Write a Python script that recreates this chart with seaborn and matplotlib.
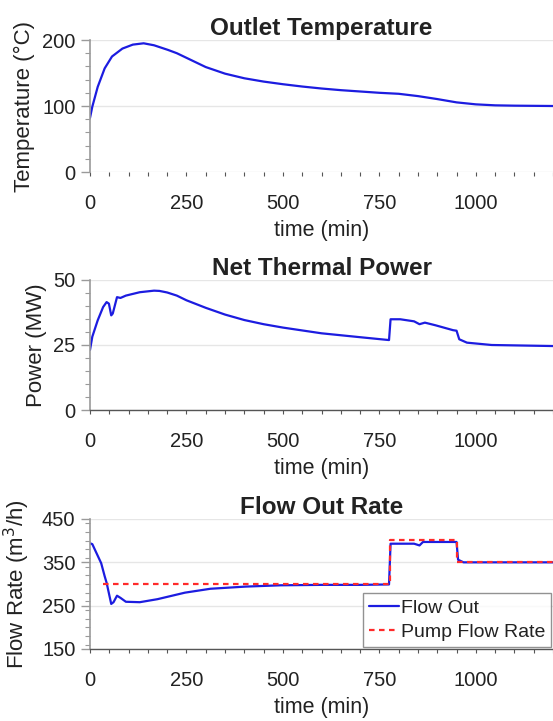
import numpy as np
import pandas as pd
import matplotlib
matplotlib.use("Agg")
import matplotlib.pyplot as plt
from matplotlib.ticker import MultipleLocator
import seaborn as sns

# values
temp_t = [0, 6, 20, 38, 57, 84, 111, 139, 166, 202, 225, 250, 275, 300, 325, 350,
          400, 450, 500, 550, 600, 650, 700, 750, 800, 850, 900, 950, 1000, 1050,
          1100, 1200]
temp_v = [82, 99, 129, 157, 175, 187, 193, 195, 192, 185, 180, 173, 166, 159, 154, 149,
          142, 137, 133, 129.5, 126.5, 124, 122, 120, 118.5, 115, 110.5, 105.5, 102.5,
          101, 100.5, 100]

power_t = [0, 6, 20, 34, 43, 49, 55, 59, 70, 79, 93, 129, 166, 180, 200, 225, 250,
           300, 350, 400, 450, 500, 600, 700, 768, 775, 779, 804, 840, 854, 868, 895,
           941, 950, 957, 977, 1041, 1200]
power_v = [23.1, 28.2, 34.5, 39.6, 41.5, 40.9, 36.4, 37.1, 43.4, 43.1, 44.0, 45.3,
           45.9, 45.8, 45.2, 44.0, 42.2, 39.3, 36.7, 34.6, 33.0, 31.7, 29.5, 28.0,
           27.0, 26.9, 34.9, 34.9, 34.1, 33.0, 33.6, 32.6, 30.7, 30.5, 27.2, 25.9,
           25.0, 24.6]

flow_t = [0, 6, 29, 38, 43, 55, 61, 70, 79, 93, 129, 175, 246, 312, 403, 494, 600,
          700, 775, 779, 840, 854, 863, 950, 954, 968, 1200]
flow_v = [394, 392, 348, 318, 303, 254, 258, 273, 268, 259, 258, 265, 280, 289, 294,
          297, 298, 298, 299, 393, 393, 389, 397, 397, 356, 350, 350]

pump_t = [34, 777, 777, 950, 950, 1200]
pump_v = [300, 300, 402, 402, 350, 350]

x_ticks = [0, 250, 500, 750, 1000]
flow_ticks = [150, 250, 350, 450]

sns.set_theme(style="white")
plt.rcParams['font.family'] = ['Liberation Sans', 'DejaVu Sans']

BLUE = "#1c1ce0"
RED = "#ff2a2a"

fig = plt.figure(figsize=(5.53, 7.21), dpi=100)
left, width = 90 / 553, 463 / 553
ax1 = fig.add_axes([left, 1 - 172 / 721, width, 132 / 721])
ax2 = fig.add_axes([left, 1 - 410 / 721, width, 130 / 721])
ax3 = fig.add_axes([left, 1 - 649 / 721, width, 130 / 721])

df_temp = pd.DataFrame({"t": temp_t, "v": temp_v})
df_pow = pd.DataFrame({"t": power_t, "v": power_v})
df_flow = pd.DataFrame({"t": flow_t, "v": flow_v})
df_pump = pd.DataFrame({"t": pump_t, "v": pump_v})

sns.lineplot(data=df_temp, x="t", y="v", ax=ax1, color=BLUE, lw=1.6,
             estimator=None, sort=False)
sns.lineplot(data=df_pow, x="t", y="v", ax=ax2, color=BLUE, lw=1.6,
             estimator=None, sort=False)
sns.lineplot(data=df_flow, x="t", y="v", ax=ax3, color=BLUE, lw=1.6,
             estimator=None, sort=False, label="Flow Out")
sns.lineplot(data=df_pump, x="t", y="v", ax=ax3, color=RED, lw=1.6,
             estimator=None, sort=False, label="Pump Flow Rate",
             linestyle=(0, (2.5, 2)), zorder=3)

setup = [
    (ax1, "Outlet Temperature", "Temperature (°C)", (0, 200), 100, 20, -0.119),
    (ax2, "Net Thermal Power", "Power (MW)", (0, 50), 25, 5, -0.093),
    (ax3, "Flow Out Rate", "Flow Rate (m$^3$/h)", (150, 450), 100, 20, -0.125),
]
for ax, title, ylab, ylim, major, minor, lx in setup:
    ax.set_xlim(0, 1200)
    ax.set_ylim(*ylim)
    ax.set_xticks(x_ticks)
    ax.xaxis.set_minor_locator(MultipleLocator(50))
    ax.yaxis.set_major_locator(MultipleLocator(major))
    ax.yaxis.set_minor_locator(MultipleLocator(minor))
    ax.grid(True, axis="y", which="major", color="#e6e6e6", lw=1)
    ax.set_axisbelow(True)
    ax.set_title(title, fontsize=17.5, fontweight="bold", pad=3, color="#222222")
    ax.set_xlabel("time (min)", fontsize=15.5, labelpad=5, color="#222222")
    ax.set_ylabel(ylab, fontsize=16, color="#222222")
    ax.yaxis.set_label_coords(lx, 0.5)
    for s in ["top", "right"]:
        ax.spines[s].set_visible(False)
    ax.spines["left"].set_color("#9a9a9a")
    ax.spines["left"].set_linewidth(1.2)
    ax.spines["bottom"].set_color("#555555")
    ax.spines["bottom"].set_linewidth(1.0)
    ax.tick_params(axis="x", which="both", direction="out", bottom=True,
                   length=3, width=0.8, color="#555555", labelsize=14.5,
                   labelcolor="#222222", pad=13)
    ax.tick_params(axis="y", which="major", direction="out", left=True,
                   length=6.5, width=1, color="#9a9a9a", labelsize=14.5,
                   labelcolor="#222222", pad=4)
    ax.tick_params(axis="y", which="minor", direction="out", left=True,
                   length=3.5, width=0.8, color="#9a9a9a")

ax3.set_yticks(flow_ticks)
ax3.yaxis.set_minor_locator(MultipleLocator(20))
ax1.spines["bottom"].set_visible(False)

leg = ax3.legend(loc="lower right", fontsize=14, frameon=True, fancybox=False,
                 handlelength=1.55, handletextpad=0.1, borderpad=0.3,
                 labelspacing=0.35, borderaxespad=0.1)
leg.get_frame().set_edgecolor("#777777")
leg.get_frame().set_linewidth(1.0)
for txt in leg.get_texts():
    txt.set_color("#222222")

fig.savefig("out.png", dpi=100)
